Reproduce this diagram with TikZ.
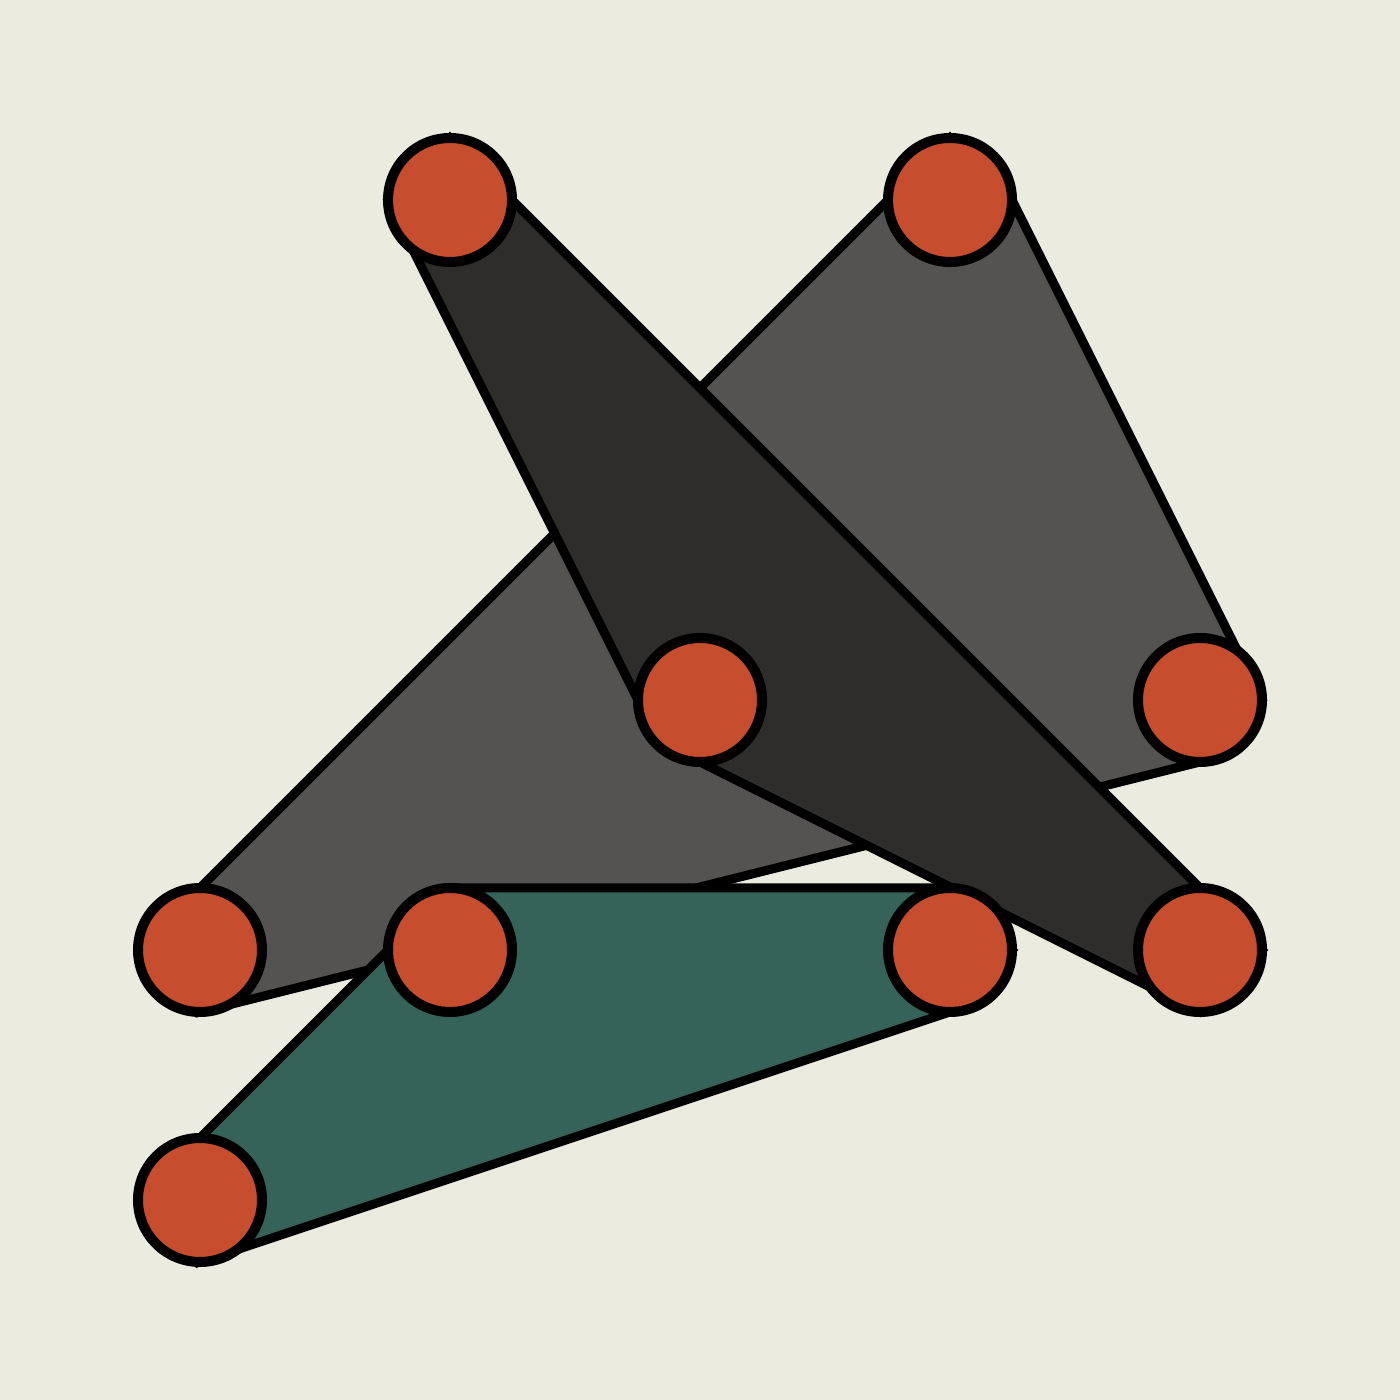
\documentclass[tikz,border=0pt]{standalone}
\usetikzlibrary{calc,backgrounds}
\definecolor{paper}{HTML}{EBEBDF}
\definecolor{slate}{HTML}{555351}
\definecolor{coal}{HTML}{2F2D2B}
\definecolor{pine}{HTML}{356359}
\definecolor{rust}{HTML}{C64D2D}
\tikzset{
  joint/.style={circle, draw=black, fill=rust, line width=0.1cm, minimum size=1.24cm, inner sep=0pt},
  plate/.style={draw=black, line width=0.09cm, line join=miter},
}
\begin{document}
\begin{tikzpicture}
\def\off{0.62}
% joints
\node[joint] (a) at (4.5,12) {};
\node[joint] (b) at (9.5,12) {};
\node[joint] (c) at (7,7) {};
\node[joint] (d) at (12,7) {};
\node[joint] (e) at (2,4.5) {};
\node[joint] (f) at (4.5,4.5) {};
\node[joint] (g) at (9.5,4.5) {};
\node[joint] (h) at (12,4.5) {};
\node[joint] (i) at (2,2) {};

\begin{pgfonlayer}{background}
\fill[paper] (0,0) rectangle (14,14);
% grey plate
\draw[plate, fill=slate] ($(e)+(0,\off)$) -- ($(b)+(-\off,0)$) -- ($(b)+(0,\off)$) -- ($(b)+(\off,0)$)
  -- ($(d)+(\off,0)$) -- ($(d)+(0,-\off)$) -- ($(e)+(0,-\off)$) -- cycle;
% dark plate
\draw[plate, fill=coal] ($(a)+(0,\off)$) -- ($(h)+(\off,0)$) -- ($(h)+(0,-\off)$)
  -- ($(c)+(0,-\off)$) -- ($(c)+(-\off,0)$) -- ($(a)+(-\off,0)$) -- cycle;
% green plate
\draw[plate, fill=pine] ($(f)+(0,\off)$) -- ($(g)+(0,\off)$) -- ($(g)+(\off,0)$) -- ($(g)+(0,-\off)$)
  -- ($(i)+(0,-\off)$) -- ($(i)+(0,\off)$) -- ($(f)+(-\off,0)$) -- cycle;
\end{pgfonlayer}
\end{tikzpicture}
\end{document}
